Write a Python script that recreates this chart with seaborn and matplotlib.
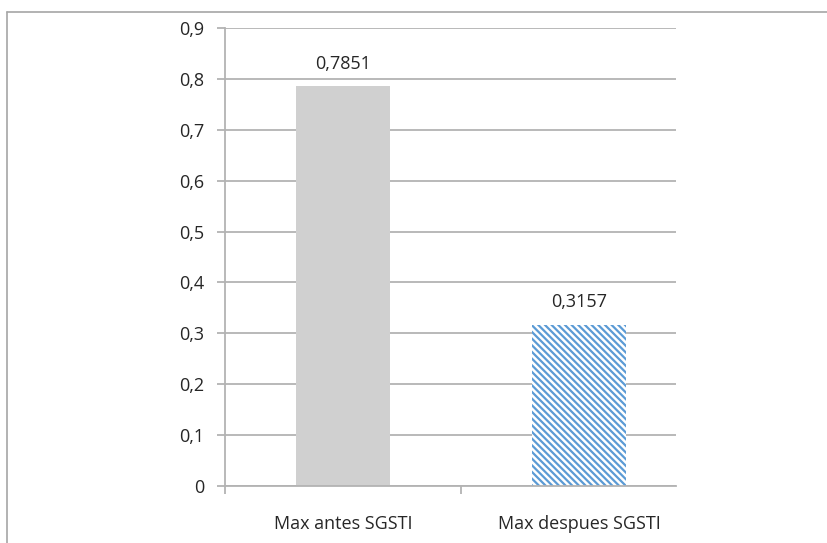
import matplotlib
matplotlib.use("Agg")
import matplotlib.pyplot as plt
from matplotlib.lines import Line2D
import seaborn as sns
import pandas as pd

categories = ["Max antes SGSTI", "Max despues SGSTI"]
values = [0.7851, 0.3157]
value_labels = ["0,7851", "0,3157"]
y_ticks = [0, 0.1, 0.2, 0.3, 0.4, 0.5, 0.6, 0.7, 0.8, 0.9]
y_tick_labels = ["0", "0,1", "0,2", "0,3", "0,4", "0,5", "0,6", "0,7", "0,8", "0,9"]

sns.set_style("white")
plt.rcParams["font.family"] = ["Open Sans", "DejaVu Sans"]
plt.rcParams["hatch.linewidth"] = 1.6

grid_col = "#b3b3b3"
text_col = "#262626"
fs = 13

fig = plt.figure(figsize=(8.28, 5.43), dpi=100)
ax = fig.add_axes([225 / 828, 1 - 486 / 543, (676 - 225) / 828, (486 - 28) / 543])

df = pd.DataFrame({"cat": categories, "val": values})
sns.barplot(data=df, x="cat", y="val", hue="cat", palette=["#d0d0d0", "#ffffff"],
            width=0.4, legend=False, ax=ax, saturation=1, linewidth=0)

# second bar: white with blue diagonal stripes
bars = ax.patches
bars[1].set_hatch("\\\\\\\\\\")
bars[1].set_edgecolor("#5b9bd5")
bars[1].set_linewidth(0)

ax.set_xlim(-0.5, 1.41)
ax.set_ylim(0, 0.9)
ax.set_yticks(y_ticks)
ax.set_yticklabels(y_tick_labels)
ax.set_xlabel("")
ax.set_ylabel("")

ax.yaxis.grid(True, color=grid_col, linewidth=1.3)
ax.set_axisbelow(True)
for s in ["top", "right"]:
    ax.spines[s].set_visible(False)
for s in ["left", "bottom"]:
    ax.spines[s].set_color(grid_col)
    ax.spines[s].set_linewidth(1.3)

ax.tick_params(axis="y", which="major", direction="out", length=6, width=1.3,
               color=grid_col, labelsize=fs, labelcolor=text_col, pad=9, left=True)
ax.tick_params(axis="x", which="major", length=0, labelsize=fs,
               labelcolor=text_col, pad=21)
ax.set_xticks([-0.5, 0.5], minor=True)
ax.tick_params(axis="x", which="minor", direction="out", length=6, width=1.3,
               color=grid_col, bottom=True)

for i, (v, lab) in enumerate(zip(values, value_labels)):
    ax.annotate(lab, xy=(i, v), xytext=(0, 10), textcoords="offset points",
                ha="center", va="bottom", fontsize=fs, color=text_col)

# chart-area frame lines
fig.add_artist(Line2D([7 / 828, 7 / 828], [0, 1 - 12 / 543], transform=fig.transFigure,
                      color="#a6a6a6", linewidth=1.2))
fig.add_artist(Line2D([7 / 828, 1], [1 - 12 / 543, 1 - 12 / 543], transform=fig.transFigure,
                      color="#a6a6a6", linewidth=1.2))

fig.savefig("out.png", dpi=100)
